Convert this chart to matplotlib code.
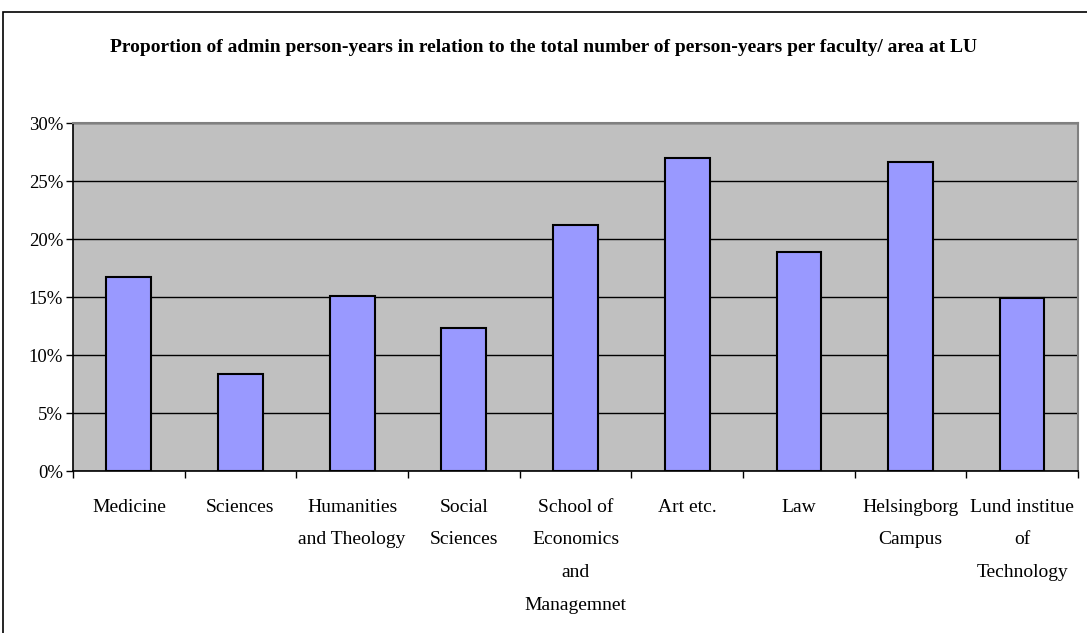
import numpy as np
import matplotlib.pyplot as plt
from matplotlib.patches import Rectangle
from matplotlib.ticker import FuncFormatter

categories = ['Medicine', 'Sciences', 'Humanities\nand Theology', 'Social\nSciences',
              'School of\nEconomics\nand\nManagemnet', 'Art etc.', 'Law',
              'Helsingborg\nCampus', 'Lund institue\nof\nTechnology']
values = [16.7, 8.4, 15.1, 12.3, 21.2, 27.0, 18.9, 26.6, 14.9]
yticks = [0, 5, 10, 15, 20, 25, 30]

plt.rcParams['font.family'] = ['Liberation Serif', 'DejaVu Serif']

fig = plt.figure(figsize=(10.87, 6.33), dpi=100)
ax = fig.add_axes([73 / 1087, 1 - 471 / 633, (1078 - 73) / 1087, (471 - 123) / 633])

x = np.arange(len(categories))
ax.set_facecolor('#C0C0C0')
ax.bar(x, values, width=0.4, color='#9999FF', edgecolor='black', linewidth=1.5, zorder=3)

ax.set_ylim(0, 30)
ax.set_xlim(-0.5, len(categories) - 0.5)
ax.set_yticks(yticks)
ax.yaxis.set_major_formatter(FuncFormatter(lambda v, p: f'{v:.0f}%'))
ax.yaxis.grid(True, color='black', linewidth=1, zorder=1)
ax.set_axisbelow(True)

# ticks sit between categories, labels in the middle
ax.set_xticks(np.arange(-0.5, len(categories), 1.0))
ax.set_xticklabels([])
ax.set_xticks(x, minor=True)
ax.set_xticklabels(categories, minor=True, fontsize=14, linespacing=2.2, va='top')
ax.tick_params(axis='x', which='minor', length=0, pad=20)
ax.tick_params(axis='x', which='major', length=5, direction='out', width=1)
ax.tick_params(axis='y', length=5, direction='out', width=1, labelsize=13.5, pad=2)

for s in ['top', 'right']:
    ax.spines[s].set_color('#808080')
    ax.spines[s].set_linewidth(1.5)
for s in ['left', 'bottom']:
    ax.spines[s].set_color('black')
    ax.spines[s].set_linewidth(1.2)

fig.text(0.5, 1 - 48 / 633, 'Proportion of admin person-years in relation to the total number of person-years per faculty/ area at LU',
         ha='center', va='center', fontsize=14, fontweight='bold')

# outer chart frame
fig.patches.append(Rectangle((3 / 1087, -0.05), 1.2, 1.05 - 12 / 633, transform=fig.transFigure,
                             fill=False, edgecolor='black', linewidth=1.2))

fig.savefig('out.png', dpi=100)
